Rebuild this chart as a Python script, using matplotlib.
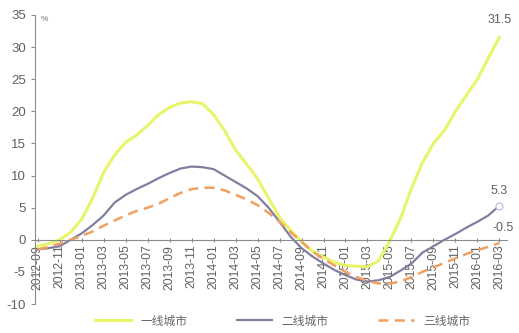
import numpy as np
import matplotlib
matplotlib.use('Agg')
import matplotlib.pyplot as plt

plt.rcParams['font.family'] = ['Liberation Sans', 'Noto Sans CJK SC']
plt.rcParams['axes.unicode_minus'] = False

# monthly, 2012-09 .. 2016-03
months = ['2012-09', '2012-10', '2012-11', '2012-12', '2013-01', '2013-02', '2013-03', '2013-04',
          '2013-05', '2013-06', '2013-07', '2013-08', '2013-09', '2013-10', '2013-11', '2013-12',
          '2014-01', '2014-02', '2014-03', '2014-04', '2014-05', '2014-06', '2014-07', '2014-08',
          '2014-09', '2014-10', '2014-11', '2014-12', '2015-01', '2015-02', '2015-03', '2015-04',
          '2015-05', '2015-06', '2015-07', '2015-08', '2015-09', '2015-10', '2015-11', '2015-12',
          '2016-01', '2016-02', '2016-03']
tier1 = [-1.0, -0.6, 0.0, 1.2, 3.2, 6.5, 10.5, 13.2, 15.2, 16.3, 17.8, 19.5, 20.6, 21.3, 21.5,
         21.2, 19.5, 17.0, 14.0, 11.8, 9.5, 6.5, 3.5, 1.5, -0.3, -1.8, -2.7, -3.5, -4.0, -4.1,
         -4.2, -3.3, -0.3, 3.3, 8.0, 12.0, 15.0, 17.0, 20.0, 22.5, 25.0, 28.3, 31.5]
tier2 = [-1.5, -1.3, -1.0, 0.0, 1.0, 2.3, 3.8, 5.8, 7.0, 7.9, 8.7, 9.6, 10.4, 11.1, 11.4,
         11.3, 11.0, 10.0, 9.0, 8.0, 6.8, 5.0, 2.8, 0.5, -1.3, -2.6, -3.7, -4.7, -5.5, -6.2,
         -6.5, -6.3, -5.8, -4.8, -3.7, -2.0, -1.0, 0.0, 0.9, 1.9, 2.8, 3.8, 5.3]
tier3 = [-1.5, -1.1, -0.6, 0.0, 0.6, 1.3, 2.2, 3.0, 3.8, 4.5, 5.0, 5.6, 6.5, 7.3, 7.9,
         8.1, 8.1, 7.7, 7.0, 6.3, 5.4, 4.2, 2.8, 1.2, -0.3, -1.8, -3.0, -4.0, -5.0, -5.8,
         -6.4, -6.8, -6.8, -6.5, -5.8, -5.0, -4.3, -3.6, -2.9, -2.2, -1.6, -1.1, -0.5]
names = ['一线城市', '二线城市', '三线城市']

x = np.arange(len(months))
grey = '#8c8c8c'
txt = '#606060'

fig = plt.figure(figsize=(5.19, 3.33), dpi=100)
ax = fig.add_axes([0.067, 0.087, 0.91, 0.868])

# x axis sits on the zero line
ax.spines['bottom'].set_position(('data', 0))
ax.spines['bottom'].set_color(grey)
ax.spines['left'].set_color(grey)
ax.spines['top'].set_visible(False)
ax.spines['right'].set_visible(False)

ax.plot(x, tier1, color='#e8f56a', lw=2.2, label=names[0])
ax.plot(x, tier2, color='#837e9e', lw=1.6, label=names[1])
ax.plot(x, tier3, color='#f0a060', lw=1.8, ls=(0, (4, 2.5)), label=names[2])
ax.plot(x[-1], tier2[-1], 'o', ms=5, mfc='white', mec='#c9c2e6', mew=1, zorder=5)

ax.text(x[-1], tier1[-1] + 1.8, '31.5', ha='center', va='bottom', fontsize=9, color=txt)
ax.text(x[-1], tier2[-1] + 1.4, '5.3', ha='center', va='bottom', fontsize=9, color=txt)
ax.text(x[-1] + 0.3, tier3[-1] + 1.4, '-0.5', ha='center', va='bottom', fontsize=9, color=txt)

ax.set_xlim(-0.27, 42.7)
ax.set_ylim(-10, 35)
ax.set_yticks(range(-10, 36, 5))
ax.set_xticks(x[::2])
ax.set_xticklabels(months[::2])
ax.tick_params(axis='y', labelsize=9.5, labelcolor=txt, color=grey, length=3)
ax.tick_params(axis='x', labelsize=8.8, labelcolor=txt, labelrotation=90,
               color=grey, length=3, direction='inout', pad=2)

ax.text(0.012, 0.995, '%', transform=ax.transAxes, fontsize=6, color='#777777',
        va='top', ha='left')

fig.legend(loc='lower center', bbox_to_anchor=(0.545, -0.015), ncol=3, frameon=False,
           fontsize=8.5, handlelength=3.0, columnspacing=4.2, labelcolor='#666666')

fig.savefig('out.png', dpi=100)
